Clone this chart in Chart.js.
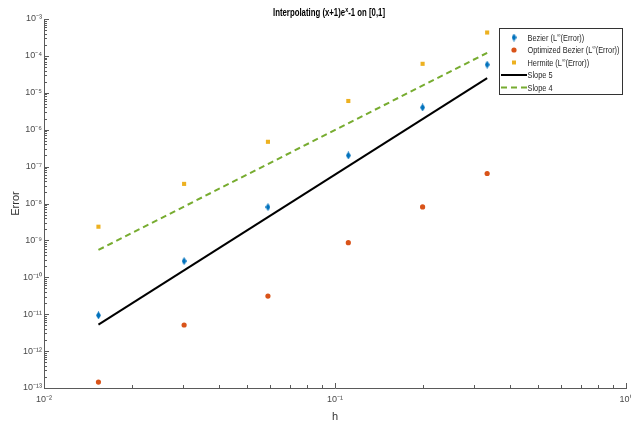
<!DOCTYPE html>
<html><head><meta charset="utf-8">
<script src="https://cdn.jsdelivr.net/npm/chart.js@4.4.1/dist/chart.umd.min.js"></script>
<style>html,body{margin:0;padding:0;background:#fff;}#wrap{width:631px;height:426px;position:relative;overflow:hidden;}</style>
</head><body><div id="wrap"><canvas id="c" width="631" height="426"></canvas></div>
<script>
// ---- data ----
const hValues      = [0.015385, 0.030303, 0.058824, 0.111111, 0.2, 0.333333];
const bezierErr    = [9.3e-12, 2.75e-10, 8.0e-9, 2.0e-7, 4.0e-6, 5.8e-5];
const optimizedErr = [1.45e-13, 5.1e-12, 3.1e-11, 8.7e-10, 8.1e-9, 6.5e-8];
const hermiteErr   = [2.35e-9, 3.4e-8, 4.7e-7, 6.0e-6, 6.1e-5, 4.3e-4];
const slopeH       = [0.015385, 0.333333];
const slope5Err    = [5.2e-12, 2.5e-5];
const slope4Err    = [5.5e-10, 1.21e-4];
const xTickValues  = [1e-2, 1e-1, 1];
const xTickLabels  = ['10⁻²', '10⁻¹', '10⁰'];
const yTickValues  = [1e-13, 1e-12, 1e-11, 1e-10, 1e-9, 1e-8, 1e-7, 1e-6, 1e-5, 1e-4, 1e-3];
const yTickLabels  = ['10⁻¹³', '10⁻¹²', '10⁻¹¹', '10⁻¹⁰', '10⁻⁹', '10⁻⁸', '10⁻⁷', '10⁻⁶', '10⁻⁵', '10⁻⁴', '10⁻³'];
const minorMultipliers = [2, 3, 4, 5, 6, 7, 8, 9];

const titleParts = ['Interpolating (x+1)e', 'x', '-1 on [0,1]'];
const legendEntries = [
  {kind: 'diamond', parts: ['Bezier (L', '∞', '(Error))']},
  {kind: 'circle',  parts: ['Optimized Bezier (L', '∞', '(Error))']},
  {kind: 'square',  parts: ['Hermite (L', '∞', '(Error))']},
  {kind: 'solid',   parts: ['Slope 5', '', '']},
  {kind: 'dashed',  parts: ['Slope 4', '', '']}
];

const BLUE = '#0072BD', ORANGE = '#D95319', YELLOW = '#EDB120', GREEN = '#77AC30';
const AXIS = '#5a5a5a', FONT = "'Liberation Sans', Arial, sans-serif";

function diamondCanvas(w, h, color) {
  const c = document.createElement('canvas');
  c.width = w; c.height = h;
  const g = c.getContext('2d');
  g.fillStyle = color;
  g.beginPath();
  g.moveTo(w / 2, 0); g.lineTo(w, h / 2); g.lineTo(w / 2, h); g.lineTo(0, h / 2);
  g.closePath(); g.fill();
  return c;
}
const diamond = diamondCanvas(5, 8, BLUE);

function pts(xs, ys) { return xs.map((x, i) => ({x: x, y: ys[i]})); }

function drawParts(ctx, parts, x, y, size, bold, targetW, supSize, supRaise) {
  const f1 = (bold ? 'bold ' : '') + size + 'px ' + FONT;
  const f2 = (bold ? 'bold ' : '') + supSize + 'px ' + FONT;
  ctx.font = f1; const w0 = ctx.measureText(parts[0]).width;
  ctx.font = f2; const w1 = parts[1] ? ctx.measureText(parts[1]).width : 0;
  ctx.font = f1; const w2 = parts[2] ? ctx.measureText(parts[2]).width : 0;
  return {w: w0 + w1 + w2, draw: (sx) => {
    ctx.save();
    ctx.translate(x, y); ctx.scale(sx, 1);
    ctx.textBaseline = 'alphabetic'; ctx.textAlign = 'left';
    ctx.font = f1; ctx.fillText(parts[0], 0, 0);
    if (parts[1]) { ctx.font = f2; ctx.fillText(parts[1], w0, -supRaise); }
    if (parts[2]) { ctx.font = f1; ctx.fillText(parts[2], w0 + w1, 0); }
    ctx.restore();
  }};
}

const decorPlugin = {
  id: 'decor',
  afterDraw(chart) {
    const ctx = chart.ctx, xs = chart.scales.x, ys = chart.scales.y, a = chart.chartArea;
    ctx.save();
    // inward tick marks
    ctx.strokeStyle = AXIS; ctx.lineWidth = 1;
    ctx.beginPath();
    const xDec = xTickValues;
    xDec.forEach((d, i) => {
      const px = Math.round(xs.getPixelForValue(d)) + 0.5;
      ctx.moveTo(px, a.bottom); ctx.lineTo(px, a.bottom - 5);
      if (i < xDec.length - 1) minorMultipliers.forEach(m => {
        const p = Math.round(xs.getPixelForValue(d * m)) + 0.5;
        ctx.moveTo(p, a.bottom); ctx.lineTo(p, a.bottom - 3);
      });
    });
    const yDec = yTickValues;
    yDec.forEach((d, i) => {
      const py = Math.round(ys.getPixelForValue(d)) + 0.5;
      ctx.moveTo(a.left, py); ctx.lineTo(a.left + 5, py);
      if (i < yDec.length - 1) minorMultipliers.forEach(m => {
        const p = Math.round(ys.getPixelForValue(d * m)) + 0.5;
        ctx.moveTo(a.left, p); ctx.lineTo(a.left + 3, p);
      });
    });
    ctx.stroke();

    // title
    ctx.fillStyle = '#000';
    const t = drawParts(ctx, titleParts, 273, 16, 10, true, 112, 7, 4);
    t.draw(112 / t.w);

    // legend
    const L = 499.5, T = 28.5, W = 123, H = 66;
    ctx.fillStyle = '#fff'; ctx.fillRect(L, T, W, H);
    ctx.strokeStyle = '#333'; ctx.lineWidth = 1; ctx.strokeRect(L, T, W, H);
    const rowsY = [37.5, 50, 62.5, 75, 87.5];
    const widest = drawParts(ctx, legendEntries[1].parts, 0, 0, 9, false, 0, 6, 4).w;
    const sx = 92 / widest;
    legendEntries.forEach((e, i) => {
      const y = rowsY[i];
      if (e.kind === 'diamond') ctx.drawImage(diamond, 514 - 2.5, y - 4);
      else if (e.kind === 'circle') { ctx.fillStyle = ORANGE; ctx.beginPath(); ctx.arc(514, y, 2.6, 0, Math.PI * 2); ctx.fill(); }
      else if (e.kind === 'square') { ctx.fillStyle = YELLOW; ctx.fillRect(512, y - 2, 4, 4); }
      else {
        ctx.save();
        ctx.lineWidth = 2;
        ctx.strokeStyle = e.kind === 'solid' ? '#000' : GREEN;
        ctx.setLineDash(e.kind === 'solid' ? [] : [6, 4]);
        ctx.beginPath(); ctx.moveTo(501, y); ctx.lineTo(527, y); ctx.stroke();
        ctx.restore();
      }
      ctx.fillStyle = '#262626';
      drawParts(ctx, e.parts, 527.5, y + 3.2, 9, false, 0, 6, 4).draw(sx);
    });
    ctx.restore();
  }
};

new Chart(document.getElementById('c'), {
  type: 'scatter',
  data: {
    datasets: [
      {label: 'Bezier (L∞(Error))', data: pts(hValues, bezierErr), pointStyle: diamond, pointRadius: 4, showLine: false},
      {label: 'Optimized Bezier (L∞(Error))', data: pts(hValues, optimizedErr), pointStyle: 'circle', pointRadius: 2.6, backgroundColor: ORANGE, borderWidth: 0, showLine: false},
      {label: 'Hermite (L∞(Error))', data: pts(hValues, hermiteErr), pointStyle: 'rect', pointRadius: 2.9, backgroundColor: YELLOW, borderWidth: 0, showLine: false},
      {label: 'Slope 5', data: pts(slopeH, slope5Err), showLine: true, borderColor: '#000', borderWidth: 2, pointRadius: 0},
      {label: 'Slope 4', data: pts(slopeH, slope4Err), showLine: true, borderColor: GREEN, borderWidth: 2, borderDash: [6, 4], pointRadius: 0}
    ]
  },
  options: {
    responsive: false, animation: false, devicePixelRatio: 1,
    layout: {padding: {top: 19, right: 3, left: 0, bottom: 0}},
    plugins: {legend: {display: false}, tooltip: {enabled: false}},
    scales: {
      x: {
        type: 'logarithmic', min: 1e-2, max: 1,
        afterBuildTicks: s => { s.ticks = xTickValues.map(v => ({value: v, major: true})); },
        afterFit: s => { s.height = 38; s.paddingLeft = 0; s.paddingRight = 0; },
        ticks: {autoSkip: false, maxRotation: 0, padding: 6, color: '#4a4a4a', font: {family: FONT, size: 9},
          callback: v => xTickLabels[xTickValues.indexOf(v)]},
        grid: {display: false, drawTicks: false},
        border: {display: true, color: AXIS, width: 1},
        title: {display: true, text: 'h', color: '#333', font: {family: FONT, size: 11}, padding: {top: 0, bottom: 2.4}}
      },
      y: {
        type: 'logarithmic', min: 1e-13, max: 1e-3,
        afterBuildTicks: s => { s.ticks = yTickValues.map(v => ({value: v, major: true})); },
        afterFit: s => { s.width = 44; s.paddingTop = 0; s.paddingBottom = 0; },
        ticks: {autoSkip: false, padding: 2, color: '#4a4a4a', font: {family: FONT, size: 9},
          callback: v => yTickLabels[yTickValues.indexOf(v)]},
        grid: {display: false, drawTicks: false},
        border: {display: true, color: AXIS, width: 1},
        title: {display: true, text: 'Error', color: '#333', font: {family: FONT, size: 11}, padding: {top: 9.4, bottom: 0}}
      }
    }
  },
  plugins: [decorPlugin]
});
</script>
</body></html>
